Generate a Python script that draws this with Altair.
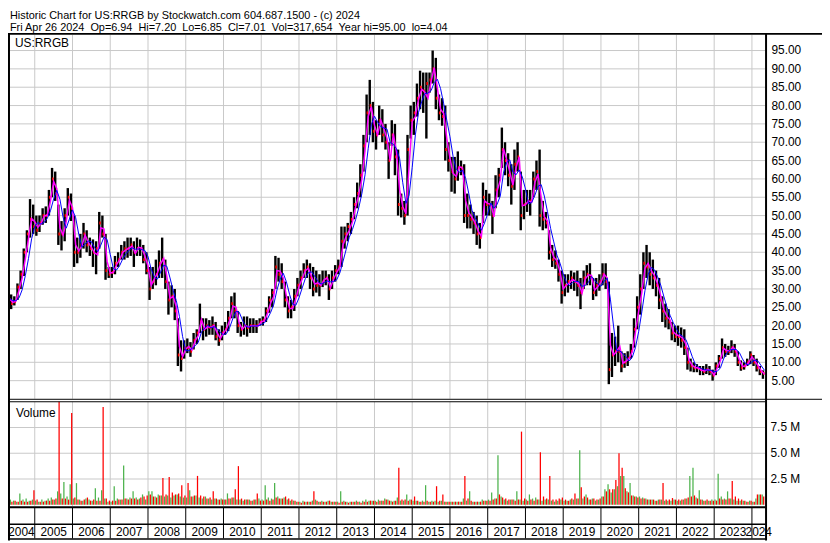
import altair as alt
import pandas as pd

# ---------------- data (monthly, Apr 2004 .. Apr 2024) ----------------
high = [
    29, 28.5, 28, 31.5, 35, 41, 46, 54.5, 53,                      # 2004 Apr-Dec
    50, 50, 52, 52.5, 57, 63, 62, 53, 48.5, 52, 57.5, 56,          # 2005
    50, 44, 45, 48, 46, 44, 43.5, 43, 51, 50, 45, 36,              # 2006
    36, 39, 40, 42, 43, 44, 44, 43, 44, 43.5, 42, 40,              # 2007
    36, 36, 38, 40.5, 44, 38, 32, 31, 30, 22, 16, 16,              # 2008
    16.5, 15.5, 18, 19, 26, 22, 22, 21.5, 22.5, 21, 19, 20,        # 2009
    21, 24, 28, 29, 24, 21, 22.5, 22.5, 22, 22, 21.5, 22,          # 2010
    22.5, 25, 28, 30, 39, 38.5, 37, 32, 28, 27, 30, 33,            # 2011
    35, 37, 38, 37, 36, 35, 34, 35, 35, 34, 35, 36.5,              # 2012
    38, 47, 47, 48, 51, 55, 59, 64, 72, 83, 87, 81,                # 2013
    76, 80, 79, 75, 70, 76, 75, 68, 56, 54, 72, 80,                # 2014
    81, 86, 89.5, 89, 89, 89, 95, 93, 83, 82, 80, 70,              # 2015
    66, 66, 67.5, 65, 64, 56, 53, 51, 50, 48, 59, 57,              # 2016
    56, 54, 61, 63, 74, 70, 67, 64, 68, 70, 62, 57,                # 2017
    57, 57, 62, 65, 68, 54, 51, 46, 42, 40.5, 38, 35,              # 2018
    34, 34, 35, 34.5, 35, 33, 35, 36.5, 37, 33, 33, 34,            # 2019
    37, 37, 32, 18, 17, 20, 13, 12.5, 13, 15, 22, 28,              # 2020
    34, 40, 42, 40, 38, 35, 33, 28, 26, 24.5, 21, 20,              # 2021
    20, 19.5, 19, 14, 11, 10, 9.5, 9, 9, 9.5, 9, 8,                # 2022
    10, 12, 16.5, 15, 14.5, 16, 15, 13, 10.5, 10, 11, 13,          # 2023
    12, 11, 9, 7.8,                                                # 2024 Jan-Apr
]
low = [
    26, 24.5, 25.5, 27, 30, 33.5, 40, 44, 45,
    44.5, 45.5, 47.5, 48, 50, 55, 54, 42, 40.5, 43, 50, 48.5,
    36, 37, 38.5, 41, 40, 39, 36, 34, 41, 44, 32.5, 33,
    33, 34, 36, 38, 38, 38.5, 39, 36, 39, 39, 37, 34,
    27, 30, 31, 33, 33, 30, 23, 25, 21.5, 9, 7.5, 11,
    12.5, 11.5, 13.5, 15, 18, 16, 17, 17.5, 17.5, 16, 14.5, 16,
    17.5, 18.5, 22, 22, 18, 17, 17.5, 17, 18, 18, 18, 20,
    20, 21, 23.5, 25, 30, 32, 30, 25, 22, 22, 24, 28,
    30, 33, 33, 30, 28, 29, 28, 30.5, 31, 27, 30, 32,
    34, 36, 41, 43, 45, 49, 52, 55, 62, 70, 72, 70,
    68, 72, 70, 68, 60, 69, 61, 50, 49.5, 47.5, 50, 71,
    72, 77, 79, 78, 71, 83.5, 86, 79, 76, 74.5, 65, 62,
    56.5, 56, 59.5, 61, 48, 46.5, 46.5, 45, 42, 41, 48, 50,
    50, 45, 52, 55, 63, 61, 58, 53, 57, 62, 46, 49,
    51, 50, 55, 57, 47, 46, 46.5, 38, 36, 35.5, 32, 26,
    28, 29, 30, 29.5, 28, 24.5, 30, 31, 31, 27, 28, 29.5,
    31, 30, 4.04, 6, 9, 10, 7.3, 8.5, 9, 11, 14, 19,
    23, 30, 33, 31, 30, 28, 24.5, 21, 19.5, 19, 16, 15.5,
    14.5, 14, 12, 8, 7.5, 7.3, 7.3, 6.5, 6.5, 6.8, 6.5, 5,
    6.5, 8.5, 11, 11.5, 12, 12.5, 11.5, 9, 7.7, 8, 9, 9.5,
    9, 7.5, 6.5, 5.5,
]
close = [
    27, 26, 26.5, 30.5, 34, 40, 45, 49, 47,
    46, 48, 50, 50, 55, 60, 56, 45, 45, 50, 55, 52,
    40, 40, 42, 45, 42, 41, 40, 41, 48, 45, 35, 34,
    34.5, 37, 38, 40, 41, 41, 42, 40, 41, 41, 38, 35,
    30, 32, 34, 37, 38, 32, 27, 28, 24, 12, 11, 14,
    14, 13, 16, 18, 21, 19, 20, 19.5, 20, 17, 16, 18,
    19, 22, 26, 24, 20, 19, 20, 19.5, 20, 20, 20, 21,
    21.5, 24, 27, 29, 36, 34, 32, 27, 24, 25, 28, 31,
    33, 35, 36, 33, 30, 31, 31, 32, 33, 30, 33, 35,
    36, 43, 45, 47, 49, 53, 56, 61, 69, 78, 80, 73,
    72, 76, 72, 70, 65, 72, 66, 53, 52, 50, 68, 76,
    78, 82, 85, 84, 86, 87, 90, 82, 78, 77, 68, 65,
    62, 60, 63, 63, 50, 50, 49, 48, 45, 44, 55, 53,
    53, 50, 57, 61, 68, 65, 61, 58, 64, 66, 50, 53,
    54, 54, 60, 62, 50, 49, 48, 40, 38, 37, 34, 29,
    31, 32, 33, 32, 31, 29, 33, 34, 33, 29, 31, 32,
    34, 32, 8, 12, 13, 13, 9, 10, 11, 13, 19, 25,
    30, 37, 36, 34, 33, 31, 27, 24, 22, 21, 18, 17,
    17, 16, 14, 10, 9, 8.5, 8.5, 8, 7.5, 8, 7.5, 6.5,
    9, 11, 14, 13, 13, 14, 13, 10, 8.5, 9, 10, 12,
    10, 8.5, 7.5, 7.01,
]
# peak daily volume per month, millions (up days / down days)
vol_up = [
    0.3, 0.5, 0.4, 0.3, 1.1, 0.5, 0.6, 0.4, 0.5,
    0.4, 0.3, 0.5, 0.4, 0.6, 0.7, 0.5, 1.3, 1.1, 2.2, 0.8, 2.0,
    0.6, 2.1, 0.5, 0.4, 0.6, 0.5, 0.4, 1.6, 0.7, 1.4, 0.6, 0.3,
    0.3, 1.8, 0.6, 0.5, 3.8, 0.6, 0.7, 1.3, 0.7, 0.6, 1.0, 0.5,
    1.3, 1.3, 0.8, 1.0, 0.9, 0.8, 0.9, 0.7, 0.9, 1.0, 0.8, 0.7,
    0.7, 1.4, 0.8, 0.9, 0.7, 0.6, 0.8, 0.6, 0.5, 0.6, 0.5, 0.6,
    0.5, 1.1, 0.6, 0.7, 0.5, 0.5, 0.4, 0.5, 0.5, 0.4, 0.5, 0.6,
    0.5, 1.9, 0.7, 0.6, 2.1, 0.8, 0.6, 0.7, 0.5, 0.4, 0.4, 0.3,
    0.3, 0.4, 0.3, 0.3, 0.4, 0.5, 0.3, 0.4, 0.3, 0.4, 0.3, 0.3,
    0.3, 1.3, 0.4, 0.3, 0.3, 0.3, 0.4, 0.3, 0.4, 0.5, 0.4, 0.4,
    0.4, 0.5, 0.4, 0.6, 0.5, 0.4, 0.4, 0.7, 0.4, 0.4, 1.0, 0.5,
    0.4, 0.4, 0.3, 0.4, 1.9, 0.3, 0.4, 0.4, 0.3, 0.4, 0.3, 0.3,
    0.3, 0.3, 0.3, 0.3, 0.6, 0.4, 1.3, 0.3, 0.3, 0.3, 0.5, 0.4,
    0.5, 1.2, 0.6, 4.8, 0.8, 0.5, 0.4, 0.5, 0.5, 1.3, 0.5, 0.4,
    0.5, 1.0, 0.6, 0.7, 0.5, 0.4, 0.5, 0.5, 0.4, 0.3, 0.4, 0.5,
    0.4, 0.4, 0.5, 0.5, 0.6, 5.3, 0.6, 1.0, 0.5, 0.6, 0.4, 0.5,
    0.8, 1.5, 2.0, 1.2, 1.5, 1.8, 2.8, 2.8, 1.3, 2.1, 0.9, 0.8,
    0.8, 0.7, 0.6, 0.5, 0.5, 0.4, 0.5, 0.5, 0.4, 0.4, 0.4, 0.5,
    0.4, 0.4, 0.5, 0.6, 2.8, 3.6, 0.7, 1.4, 0.5, 0.4, 0.4, 0.5,
    0.5, 3.0, 0.8, 0.6, 1.3, 0.6, 0.5, 0.4, 0.4, 0.4, 0.3, 0.4,
    0.3, 0.6, 1.0, 1.0,
]
vol_down = [
    0.64, 0.3, 0.4, 0.3, 0.4, 0.3, 0.3, 0.4, 1.4,
    0.5, 0.3, 0.3, 0.4, 0.4, 0.5, 0.6, 10.5, 0.6, 0.6, 0.5, 8.9,
    0.7, 0.5, 0.4, 0.5, 0.7, 0.4, 0.5, 0.4, 0.4, 9.5, 0.6, 0.4,
    0.4, 0.4, 0.5, 0.5, 0.6, 0.5, 0.6, 0.6, 0.5, 0.7, 0.8, 0.9,
    1.0, 0.8, 0.7, 0.9, 2.6, 1.0, 2.7, 1.2, 1.0, 1.1, 1.9, 0.9,
    2.1, 0.8, 0.9, 2.8, 0.9, 0.8, 0.6, 0.7, 1.3, 0.6, 0.5, 0.5,
    0.5, 0.6, 0.7, 1.5, 3.75, 0.6, 0.5, 0.5, 0.4, 0.5, 1.1, 0.4,
    0.4, 0.5, 0.4, 0.5, 0.7, 0.6, 0.6, 0.8, 0.6, 0.5, 0.4, 0.3,
    0.2, 0.3, 0.3, 0.3, 1.3, 0.4, 0.3, 0.3, 0.3, 0.4, 0.3, 0.3,
    0.2, 0.3, 0.3, 0.2, 0.3, 0.3, 0.3, 0.2, 0.3, 0.3, 0.4, 0.4,
    0.3, 0.4, 0.4, 0.5, 0.4, 0.3, 0.4, 3.6, 0.5, 0.5, 0.4, 0.5,
    0.8, 0.4, 0.3, 0.3, 0.4, 0.3, 0.3, 1.8, 0.4, 1.0, 0.3, 0.3,
    0.3, 0.3, 0.3, 0.3, 2.8, 0.6, 0.4, 0.3, 0.3, 0.3, 0.4, 0.4,
    0.4, 0.5, 0.6, 1.0, 0.7, 0.6, 0.5, 0.5, 0.4, 0.5, 7.1, 0.6,
    0.4, 0.5, 0.4, 0.5, 5.1, 0.8, 0.6, 2.8, 0.5, 0.5, 0.6, 0.7,
    0.5, 0.4, 0.6, 1.1, 0.6, 1.7, 0.8, 0.7, 0.5, 0.6, 0.5, 0.6,
    0.8, 1.3, 1.5, 1.5, 2.4, 5.0, 3.6, 1.6, 1.2, 0.9, 0.8, 0.7,
    0.6, 0.6, 0.5, 0.5, 0.5, 0.4, 0.5, 2.1, 0.5, 0.5, 0.65, 0.5,
    0.5, 0.5, 0.6, 0.7, 0.8, 0.9, 0.6, 0.5, 0.4, 0.5, 0.4, 0.4,
    0.4, 0.6, 0.5, 0.5, 0.6, 2.3, 0.8, 0.6, 0.5, 0.4, 0.3, 0.4,
    0.3, 1.0, 1.0, 0.8,
]
price_ticks = [5, 10, 15, 20, 25, 30, 35, 40, 45, 50, 55, 60, 65, 70, 75, 80, 85, 90, 95]
vol_ticks = [2.5, 5.0, 7.5]
vol_tick_labels = ["2.5 M", "5.0 M", "7.5 M"]
years = list(range(2004, 2025))
header_1 = "Historic Chart for US:RRGB by Stockwatch.com 604.687.1500 - (c) 2024"
header_2 = ("Fri Apr 26 2024 \u00a0Op=6.94 \u00a0Hi=7.20 \u00a0Lo=6.85 \u00a0Cl=7.01 \u00a0"
            "Vol=317,654 \u00a0Year hi=95.00 \u00a0lo=4.04")
symbol = "US:RRGB"
vol_title = "Volume"

# ---------------- table ----------------
n = len(high)
t0 = [2004 + (3 + i) / 12 for i in range(n)]
df = pd.DataFrame({"t0": t0, "high": high, "low": low, "close": close,
                   "vup": vol_up, "vdn": vol_down})
m = 1 / 12
df["t1"] = df["t0"] + m
df["b0"] = df["t0"] + 0.12 * m
df["b1"] = df["t0"] + 0.88 * m
df["tk"] = df["t1"] - 0.5 * m
df["g0"] = df["t0"] + 0.06 * m
df["g1"] = df["t0"] + 0.46 * m
df["r0"] = df["t0"] + 0.54 * m
df["r1"] = df["t0"] + 0.94 * m
df["zero"] = 0.0

D0, D1 = 2004.291, 2024.361
W = 765
XS = alt.Scale(domain=[D0, D1], range=[0, W])
YP = alt.Scale(domain=[0, 100], range=[392.2, 21.8])
YV = alt.Scale(domain=[0, 10], range=[499, 395], clamp=True)

FONT = "Liberation Sans"
GRID = "#c8c8c8"
GREEN = "#4db34d"
one = pd.DataFrame({"a": [0]})

PT, PB, VT, VB = 24.5, 392, 395, 500.5

layers = []

# gridlines
layers.append(alt.Chart(pd.DataFrame({"v": price_ticks})).mark_rule(color=GRID, strokeWidth=1).encode(
    y=alt.Y("v:Q", scale=YP, axis=None), x=alt.value(0), x2=alt.value(W)))
layers.append(alt.Chart(pd.DataFrame({"v": vol_ticks})).mark_rule(color=GRID, strokeWidth=1).encode(
    y=alt.Y("v:Q", scale=YV, axis=None), x=alt.value(0), x2=alt.value(W)))
yr_df = pd.DataFrame({"yr": years[1:]})
layers.append(alt.Chart(yr_df).mark_rule(color=GRID, strokeWidth=1).encode(
    x=alt.X("yr:Q", scale=XS, axis=None), y=alt.value(PT), y2=alt.value(PB)))
layers.append(alt.Chart(yr_df).mark_rule(color=GRID, strokeWidth=1).encode(
    x=alt.X("yr:Q", scale=XS, axis=None), y=alt.value(VT), y2=alt.value(VB)))

# panel labels
layers.append(alt.Chart(pd.DataFrame({"t": [symbol]})).mark_text(
    align="left", baseline="alphabetic", font=FONT, fontSize=12, color="black").encode(
    text="t:N", x=alt.value(7), y=alt.value(37)))
layers.append(alt.Chart(pd.DataFrame({"t": [vol_title]})).mark_text(
    align="left", baseline="alphabetic", font=FONT, fontSize=12, color="black").encode(
    text="t:N", x=alt.value(8), y=alt.value(410)))

# price bars
base = alt.Chart(df)
layers.append(base.mark_rect(color="black").encode(
    x=alt.X("b0:Q", scale=XS, axis=None), x2="b1:Q",
    y=alt.Y("low:Q", scale=YP, axis=None), y2="high:Q"))
layers.append(base.transform_calculate(
    ct="datum.close + 0.4", cb="datum.close - 0.4").mark_rect(color="#ff0000").encode(
    x=alt.X("tk:Q", scale=XS, axis=None), x2="t1:Q",
    y=alt.Y("cb:Q", scale=YP, axis=None), y2="ct:Q"))

# moving averages
ma = base.transform_calculate(typ="(datum.high + datum.low + datum.close) / 3").transform_window(
    slow="mean(typ)", frame=[-2, 0], sort=[alt.SortField("t0")])
layers.append(ma.mark_line(color="#ff00ff", strokeWidth=1.5).encode(
    x=alt.X("t1:Q", scale=XS, axis=None), y=alt.Y("typ:Q", scale=YP, axis=None), order="t0:Q"))
layers.append(ma.mark_line(color="#0000ff", strokeWidth=1).encode(
    x=alt.X("t1:Q", scale=XS, axis=None), y=alt.Y("slow:Q", scale=YP, axis=None), order="t0:Q"))

# volume bars
layers.append(base.mark_rect(color=GREEN).encode(
    x=alt.X("g0:Q", scale=XS, axis=None), x2="g1:Q",
    y=alt.Y("vup:Q", scale=YV, axis=None), y2="zero:Q"))
layers.append(base.mark_rect(color="#ff0000").encode(
    x=alt.X("r0:Q", scale=XS, axis=None), x2="r1:Q",
    y=alt.Y("vdn:Q", scale=YV, axis=None), y2="zero:Q"))

# right-hand axis labels
layers.append(alt.Chart(pd.DataFrame({"v": price_ticks})).mark_text(
    align="left", baseline="middle", font=FONT, fontSize=12, color="black").encode(
    y=alt.Y("v:Q", scale=YP, axis=None), text=alt.Text("v:Q", format=".2f"), x=alt.value(771)))
layers.append(alt.Chart(pd.DataFrame({"v": vol_ticks, "lab": vol_tick_labels})).mark_text(
    align="left", baseline="middle", font=FONT, fontSize=12, color="black").encode(
    y=alt.Y("v:Q", scale=YV, axis=None), text="lab:N", x=alt.value(770)))

# year labels (centred in each visible year bin)
yl = pd.DataFrame({"yr": years})
yl["c"] = [(max(y, D0) + min(y + 1, D1)) / 2 for y in years]
yl["lab"] = [str(y) for y in years]
layers.append(alt.Chart(yl).mark_text(
    align="center", baseline="alphabetic", font=FONT, fontSize=12, color="black").encode(
    x=alt.X("c:Q", scale=XS, axis=None), text="lab:N", y=alt.value(531)))
layers.append(alt.Chart(yr_df).mark_rule(color="black", strokeWidth=1).encode(
    x=alt.X("yr:Q", scale=XS, axis=None), y=alt.value(502), y2=alt.value(533)))

# header
layers.append(alt.Chart(pd.DataFrame({"t": [header_1]})).mark_text(
    align="left", baseline="alphabetic", font=FONT, fontSize=11, color="black").encode(
    text="t:N", x=alt.value(2), y=alt.value(8.5)))
layers.append(alt.Chart(pd.DataFrame({"t": [header_2]})).mark_text(
    align="left", baseline="alphabetic", font=FONT, fontSize=11, color="black").encode(
    text="t:N", x=alt.value(2), y=alt.value(20.5)))

# frame lines
def hline(y, x1, x2, w):
    return alt.Chart(one).mark_rule(color="black", strokeWidth=w).encode(
        x=alt.value(x1), x2=alt.value(x2), y=alt.value(y))

def vline(x, y1, y2, w):
    return alt.Chart(one).mark_rule(color="black", strokeWidth=w).encode(
        x=alt.value(x), y=alt.value(y1), y2=alt.value(y2))

layers += [
    hline(23.5, 0, 822, 2),
    hline(392.5, 0, 822, 1),
    hline(395, 0, W, 1),
    hline(501.5, 0, W, 2),
    hline(518.7, 0, W, 1.5),
    hline(533.7, 0, W, 1.5),
    vline(1, 23.5, 535, 2),
    vline(765.5, 23.5, 535, 2),
]

chart = alt.layer(*layers).resolve_scale(y="independent").properties(
    width=822, height=535, padding=0,
    autosize=alt.AutoSizeParams(type="none"), background="white",
).configure_view(strokeWidth=0)

chart.save("out.html", embed_options={"renderer": "svg", "actions": False})
